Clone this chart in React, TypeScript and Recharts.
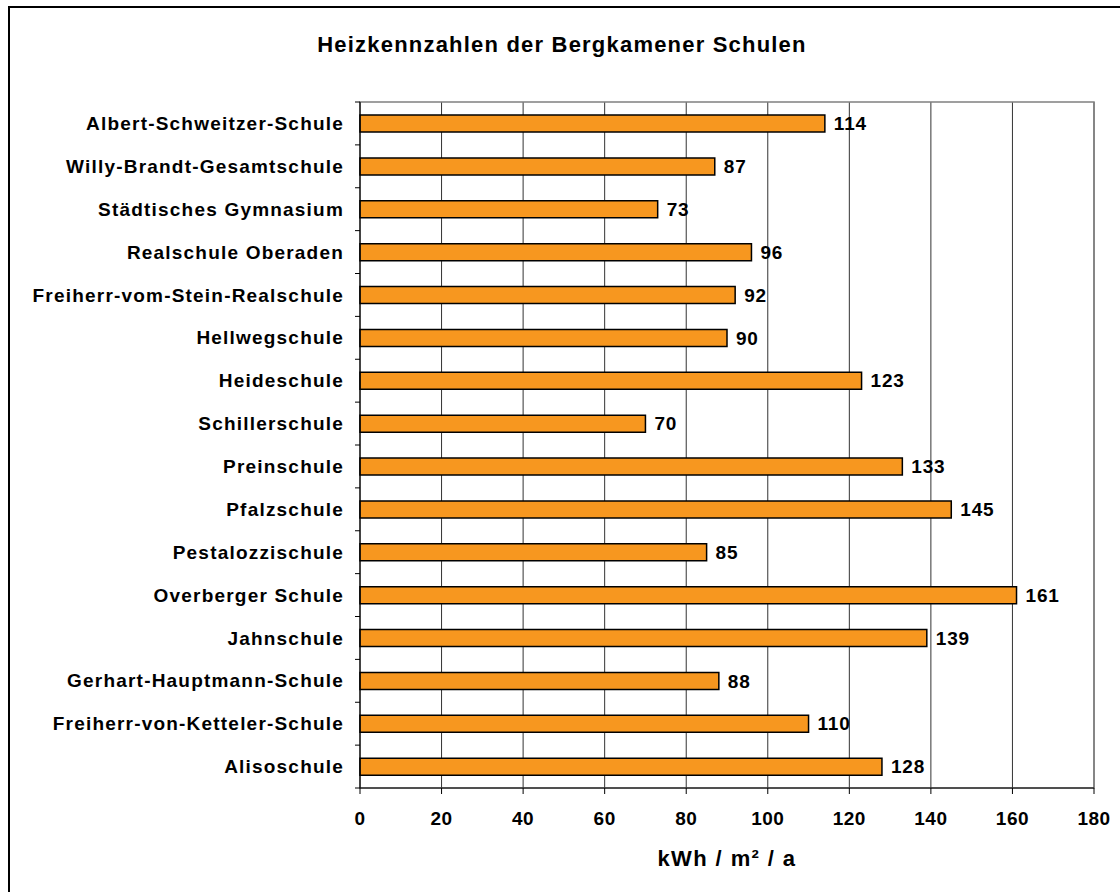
import React from "react";
import {
  BarChart,
  Bar,
  XAxis,
  YAxis,
  CartesianGrid,
  ReferenceArea,
  LabelList,
} from "recharts";

const schools = [
  "Albert-Schweitzer-Schule",
  "Willy-Brandt-Gesamtschule",
  "Städtisches Gymnasium",
  "Realschule Oberaden",
  "Freiherr-vom-Stein-Realschule",
  "Hellwegschule",
  "Heideschule",
  "Schillerschule",
  "Preinschule",
  "Pfalzschule",
  "Pestalozzischule",
  "Overberger Schule",
  "Jahnschule",
  "Gerhart-Hauptmann-Schule",
  "Freiherr-von-Ketteler-Schule",
  "Alisoschule",
];
const kennzahlen = [114, 87, 73, 96, 92, 90, 123, 70, 133, 145, 85, 161, 139, 88, 110, 128];
const xTicks = [0, 20, 40, 60, 80, 100, 120, 140, 160, 180];

const FONT = '"Liberation Sans", Arial, sans-serif';
const PLOT_TOP = 102;
const PLOT_BOTTOM = 788;
const BAND = (PLOT_BOTTOM - PLOT_TOP) / schools.length;

const data = schools.map((name, i) => ({ name, value: kennzahlen[i] }));

function SchoolTick(props: any) {
  const { x, y, payload, index } = props;
  const axisX = x + 8;
  const isLast = index === schools.length - 1;
  return (
    <g>
      <line x1={axisX - 5} x2={axisX} y1={y - BAND / 2} y2={y - BAND / 2} stroke="#000" />
      {isLast && (
        <line x1={axisX - 5} x2={axisX} y1={y + BAND / 2} y2={y + BAND / 2} stroke="#000" />
      )}
      <text
        x={axisX - 16}
        y={y}
        dy="0.35em"
        textAnchor="end"
        fontFamily={FONT}
        fontWeight="bold"
        fontSize={19}
        letterSpacing={1.2}
        fill="#000"
      >
        {payload.value}
      </text>
    </g>
  );
}

export default function App() {
  return (
    <div style={{ position: "absolute", left: 0, top: 0, width: 1120, height: 892, background: "#fff", overflow: "hidden" }}>
      <div
        style={{
          position: "absolute",
          left: 8,
          top: 6,
          width: 1110,
          height: 884,
          borderLeft: "2px solid #000",
          borderTop: "2px solid #000",
        }}
      />
      <div
        style={{
          position: "absolute",
          left: 262,
          width: 600,
          top: 32,
          textAlign: "center",
          fontFamily: FONT,
          fontWeight: "bold",
          fontSize: 22,
          letterSpacing: 1.2,
          color: "#000",
        }}
      >
        Heizkennzahlen der Bergkamener Schulen
      </div>
      <div style={{ position: "absolute", left: 0, top: 0 }}>
        <BarChart
          width={1120}
          height={892}
          data={data}
          layout="vertical"
          margin={{ top: PLOT_TOP, right: 26, bottom: 20, left: 10 }}
          barSize={17}
        >
          <CartesianGrid horizontal={false} stroke="#333" />
          <ReferenceArea x1={0} x2={180} fill="none" stroke="#808080" strokeWidth={1.5} ifOverflow="visible" />
          <XAxis
            type="number"
            domain={[0, 180]}
            ticks={xTicks}
            interval={0}
            stroke="#000"
            tickSize={6}
            tickMargin={18}
            tick={{ fill: "#000", fontSize: 19, fontWeight: "bold", fontFamily: FONT, letterSpacing: 0.5 }}
            height={84}
            label={{
              value: "kWh / m² / a",
              position: "insideBottom",
              offset: 6,
              fill: "#000",
              fontSize: 22,
              fontWeight: "bold",
              fontFamily: FONT,
              letterSpacing: 1.4,
            }}
          />
          <YAxis
            type="category"
            dataKey="name"
            width={350}
            stroke="#000"
            tickLine={false}
            interval={0}
            tick={<SchoolTick />}
          />
          <Bar dataKey="value" fill="#f7971f" stroke="#000" strokeWidth={1.5} isAnimationActive={false}>
            <LabelList
              dataKey="value"
              position="right"
              offset={9}
              fill="#000"
              fontSize={19}
              fontWeight="bold"
              fontFamily={FONT}
              letterSpacing={0.8}
            />
          </Bar>
        </BarChart>
      </div>
    </div>
  );
}
